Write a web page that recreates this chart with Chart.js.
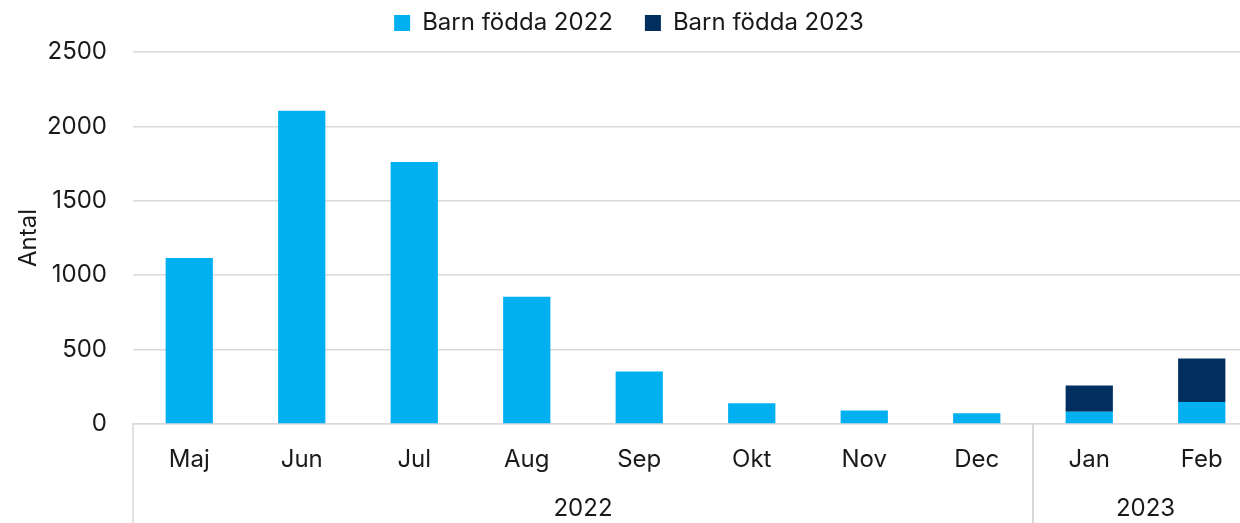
<!DOCTYPE html>
<html>
<head>
<meta charset="utf-8">
<script src="https://cdn.jsdelivr.net/npm/chart.js@4.4.1/dist/chart.umd.min.js"></script>
<style>
  html, body { margin: 0; padding: 0; background: #fff; overflow: hidden; }
  #wrap { width: 1258px; height: 523px; }
</style>
</head>
<body>
<div id="wrap"><canvas id="births"></canvas></div>
<script>
// month categories and the year each group of months belongs to
var months = ["Maj", "Jun", "Jul", "Aug", "Sep", "Okt", "Nov", "Dec", "Jan", "Feb"];
var yearLabels = ["2022", "2023"];
var yearSpans = [8, 2];

// values
var born2022 = [1115, 2105, 1760, 855, 352, 140, 90, 72, 82, 148];
var born2023 = [0, 0, 0, 0, 0, 0, 0, 0, 176, 292];

var yTicks = [0, 500, 1000, 1500, 2000, 2500];

var fontFam = "Inter, 'Liberation Sans', Arial, sans-serif";
var fontSize = 24;
var textCol = "#1a1a1a";
var gridCol = "#d9d9d9";

// draws the second row of x labels (years) and the group separators
var yearRows = {
  id: "yearRows",
  beforeLayout: function(chart) {
    // a bit more room between legend and plot
    var lg = chart.legend;
    if (lg && !lg._extraRoom) {
      var fit = lg.fit;
      lg.fit = function() { fit.call(this); this.height += 7; };
      lg._extraRoom = true;
    }
  },
  afterDraw: function(chart) {
    var ctx = chart.ctx;
    var x = chart.scales.x;
    var area = chart.chartArea;
    var step = x.getPixelForValue(1) - x.getPixelForValue(0);
    var start = 0;
    ctx.save();
    ctx.strokeStyle = gridCol;
    ctx.lineWidth = 1.5;
    ctx.fillStyle = textCol;
    ctx.font = fontSize + "px " + fontFam;
    ctx.textAlign = "center";
    ctx.textBaseline = "middle";
    for (var i = 0; i < yearLabels.length; i++) {
      var end = start + yearSpans[i] - 1;
      var left = x.getPixelForValue(start) - step / 2;
      var right = x.getPixelForValue(end) + step / 2;
      ctx.beginPath();
      ctx.moveTo(left, area.bottom);
      ctx.lineTo(left, chart.height);
      ctx.moveTo(right, area.bottom);
      ctx.lineTo(right, chart.height);
      ctx.stroke();
      ctx.fillText(yearLabels[i], (left + right) / 2, area.bottom + 85);
      start = end + 1;
    }
    ctx.restore();
  }
};

var ctx = document.getElementById("births").getContext("2d");
var chart = new Chart(ctx, {
  type: "bar",
  data: {
    labels: months,
    datasets: [{
      label: "Barn födda 2022",
      data: born2022,
      backgroundColor: "#00b0f0"
    }, {
      label: "Barn födda 2023",
      data: born2023,
      backgroundColor: "#002f5f"
    }]
  },
  options: {
    responsive: true,
    maintainAspectRatio: false,
    animation: false,
    layout: { padding: { top: -21, right: 0, left: 0, bottom: 0 } },
    datasets: {
      bar: { categoryPercentage: 1, barPercentage: 0.42 }
    },
    plugins: {
      legend: {
        position: "top",
        labels: {
          boxWidth: 16,
          boxHeight: 16,
          padding: 32,
          color: textCol,
          font: { family: fontFam, size: fontSize }
        }
      },
      tooltip: { enabled: false }
    },
    scales: {
      x: {
        stacked: true,
        grid: { display: false },
        border: { display: true, color: gridCol, width: 1.5 },
        ticks: {
          color: textCol,
          padding: 13,
          font: { family: fontFam, size: fontSize }
        },
        afterFit: function(s) { s.height = 99; }
      },
      y: {
        stacked: true,
        min: 0,
        max: 2500,
        afterBuildTicks: function(s) {
          s.ticks = yTicks.map(function(v) { return { value: v }; });
        },
        grid: { color: gridCol, lineWidth: 1.5, drawTicks: false },
        border: { display: false },
        ticks: {
          color: textCol,
          padding: 26,
          font: { family: fontFam, size: fontSize },
          callback: function(v) { return String(v); }
        },
        title: {
          display: true,
          text: "Antal",
          color: textCol,
          padding: { top: 14, bottom: 0 },
          font: { family: fontFam, size: fontSize }
        },
        afterFit: function(s) { s.width = 133; }
      }
    }
  },
  plugins: [yearRows]
});
</script>
</body>
</html>
